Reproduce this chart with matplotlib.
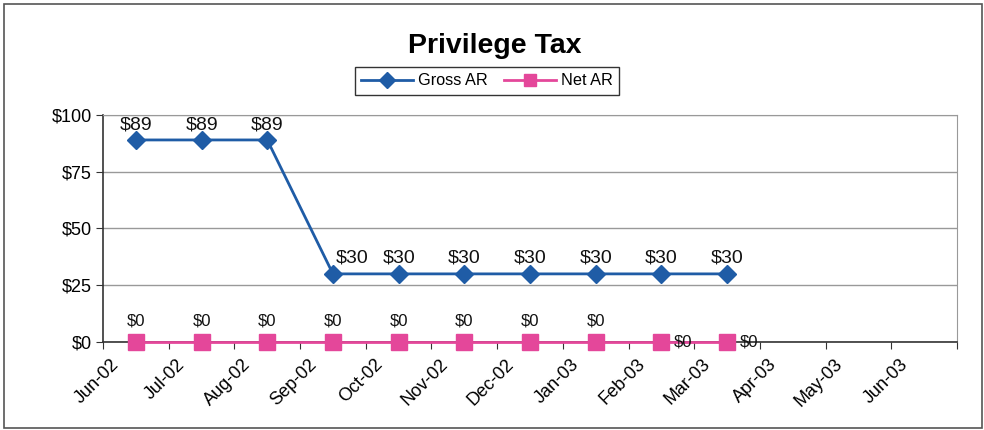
import matplotlib
matplotlib.use('Agg')
import matplotlib.pyplot as plt
from matplotlib.patches import Rectangle
from matplotlib.transforms import offset_copy

plt.rcParams['font.family'] = ['Liberation Sans', 'DejaVu Sans']

months = ['Jun-02', 'Jul-02', 'Aug-02', 'Sep-02', 'Oct-02', 'Nov-02', 'Dec-02',
          'Jan-03', 'Feb-03', 'Mar-03', 'Apr-03', 'May-03', 'Jun-03']
gross_ar = [89, 89, 89, 30, 30, 30, 30, 30, 30, 30]
net_ar = [0, 0, 0, 0, 0, 0, 0, 0, 0, 0]
y_ticks = [0, 25, 50, 75, 100]

gross_color = '#1F5CA6'
net_color = '#E4479A'

fig = plt.figure(figsize=(9.84, 4.30), dpi=100)
ax = fig.add_axes([0.1047, 0.2047, 0.8679, 0.5279])

# outer chart border
fig.patches.append(Rectangle((0.004, 0.005), 0.994, 0.985, transform=fig.transFigure,
                             fill=False, edgecolor='#555555', linewidth=1.2))

x = list(range(len(gross_ar)))
ax.plot(x, gross_ar, color=gross_color, linewidth=2, marker='D', markersize=9,
        label='Gross AR', zorder=4, clip_on=False)
ax.plot(x, net_ar, color=net_color, linewidth=2, marker='s', markersize=11,
        label='Net AR', zorder=5, clip_on=False)

for i, v in enumerate(gross_ar):
    dx = 14 if i == 3 else 0
    ax.annotate(f'${v}', (i, v), xytext=(dx, 5), textcoords='offset points',
                ha='center', va='bottom', fontsize=14, color='#111111')
for i, v in enumerate(net_ar):
    if i < 8:
        ax.annotate(f'${v}', (i, v), xytext=(0, 10), textcoords='offset points',
                    ha='center', va='bottom', fontsize=12, color='#111111')
    else:
        ax.annotate(f'${v}', (i, v), xytext=(9, 0), textcoords='offset points',
                    ha='left', va='center', fontsize=12, color='#111111', zorder=6)

ax.set_xlim(-0.5, len(months) - 0.5)
ax.set_ylim(0, 100)
ax.set_yticks(y_ticks)
ax.set_yticklabels([f'${t}' for t in y_ticks], fontsize=13)
ax.yaxis.grid(True, color='#999999', linewidth=1)
ax.set_axisbelow(True)

# tick marks sit between categories, labels at category centres
ax.set_xticks([i - 0.5 for i in range(len(months) + 1)])
ax.set_xticklabels([])
ax.set_xticks(range(len(months)), minor=True)
ax.set_xticklabels(months, minor=True, rotation=45, ha='right', rotation_mode='anchor',
                   fontsize=13)
ax.tick_params(axis='x', which='minor', length=0, pad=10)
ax.tick_params(axis='x', which='major', length=5, color='#333333', direction='out')
ax.tick_params(axis='y', length=5, color='#333333', direction='out', pad=3)

for lbl in ax.get_xticklabels(minor=True):
    lbl.set_transform(offset_copy(lbl.get_transform(), fig=fig, x=-25, y=0, units='dots'))

ax.spines['left'].set_color('#333333')
ax.spines['bottom'].set_color('#333333')
ax.spines['left'].set_linewidth(1.2)
ax.spines['bottom'].set_linewidth(1.2)
ax.spines['top'].set_color('#999999')
ax.spines['right'].set_color('#999999')

fig.text(0.503, 0.893, 'Privilege Tax', ha='center', va='center', fontsize=20.5,
         fontweight='bold')
leg = fig.legend(loc='center', bbox_to_anchor=(0.495, 0.812), ncol=2, fontsize=11.7,
                 frameon=True, fancybox=False, edgecolor='black', handlelength=3.2,
                 borderpad=0.4, columnspacing=1.0, handletextpad=0.3, markerscale=0.85)
leg.get_frame().set_linewidth(1)

fig.savefig('out.png', dpi=100)
